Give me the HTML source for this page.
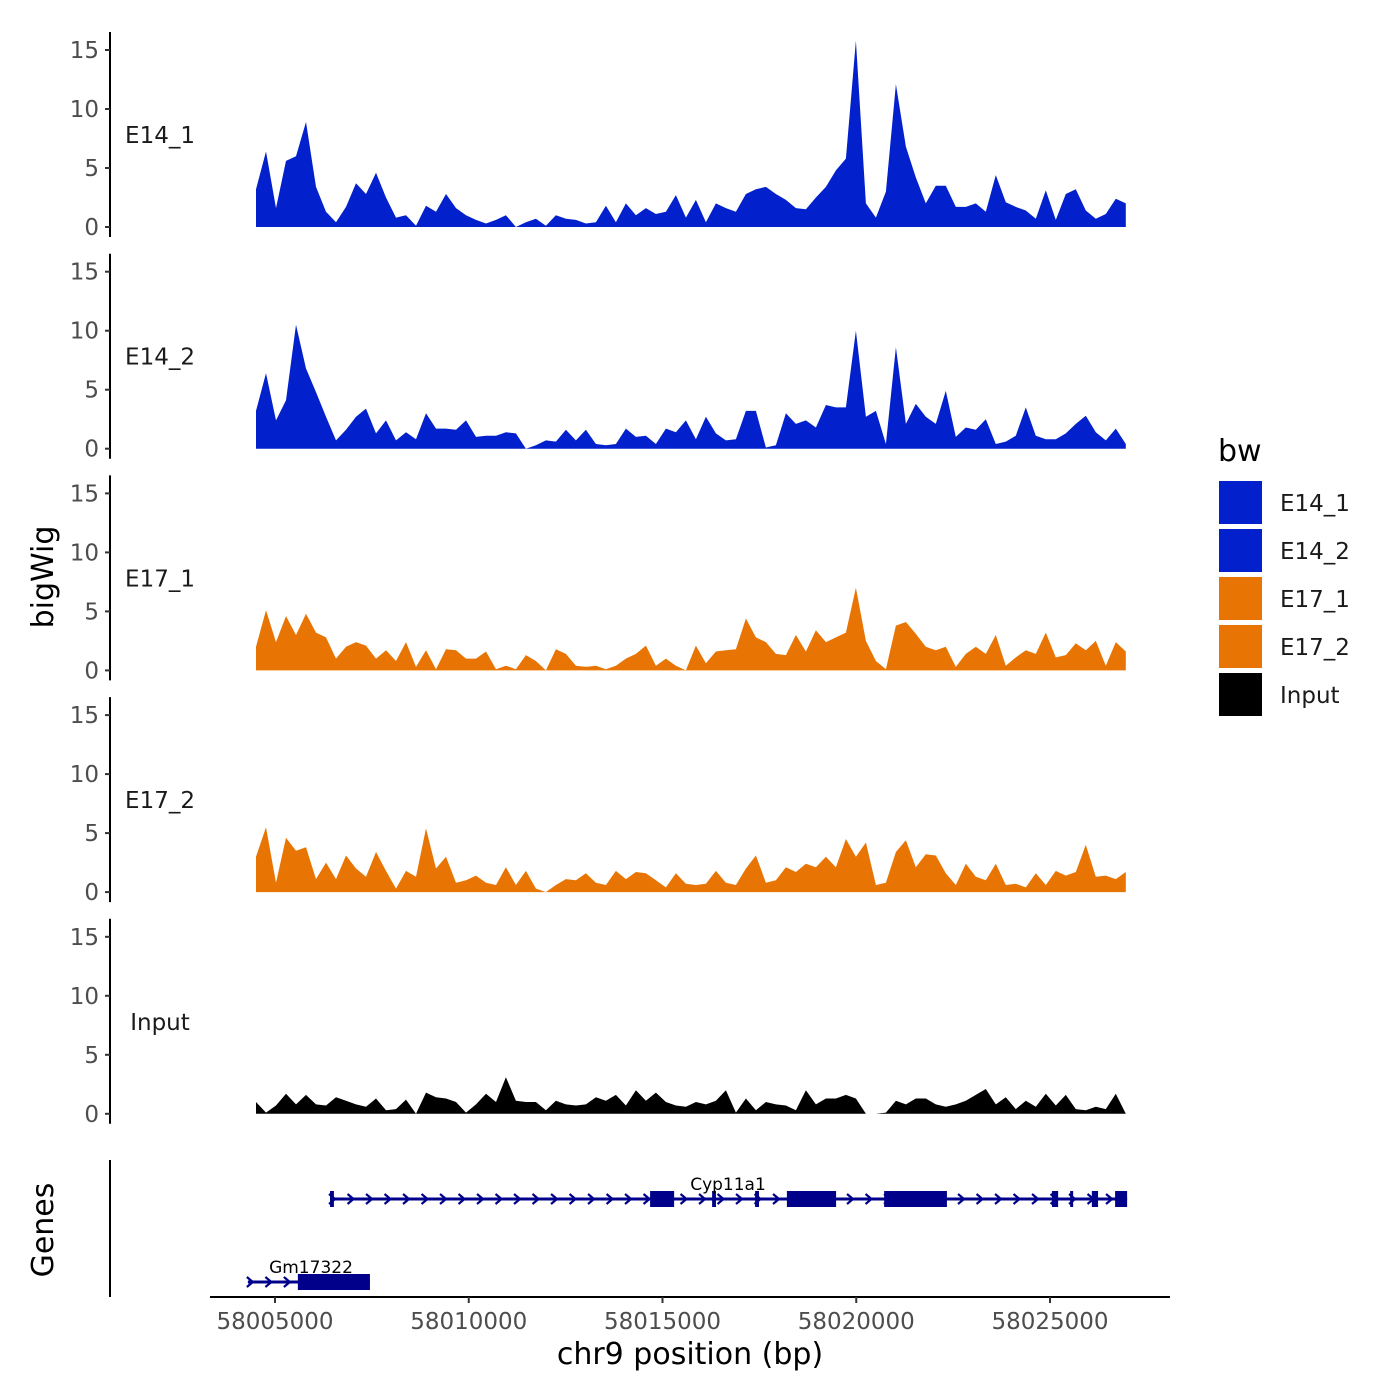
<!DOCTYPE html>
<html><head><meta charset="utf-8"><style>
body{margin:0;background:#fff}
svg{display:block;font-family:"DejaVu Sans","Liberation Sans",sans-serif}
</style></head><body>
<svg id="chart" width="1400" height="1400" viewBox="0 0 1400 1400"></svg>
<script>
const gridStart = 58004510;
const gridStep = 258;
const trackNames = ["E14_1","E14_2","E17_1","E17_2","Input"];
const trackColors = ["#0220cc","#0220cc","#e87503","#e87503","#000000"];
const e14_1 = [3.2,6.4,1.6,5.6,6.0,8.9,3.4,1.3,0.4,1.7,3.7,2.8,4.6,2.5,0.8,1.0,0.1,1.8,1.3,2.8,1.6,1.0,0.6,0.3,0.6,1.0,0,0.4,0.7,0.1,1.0,0.7,0.6,0.3,0.4,1.8,0.4,2.0,1.0,1.6,1.1,1.3,2.7,0.8,2.3,0.4,2.0,1.6,1.3,2.8,3.2,3.4,2.8,2.3,1.6,1.5,2.5,3.4,4.8,5.8,15.8,2.0,0.8,3.0,12.1,6.8,4.2,2.0,3.5,3.5,1.7,1.7,2.0,1.3,4.4,2.1,1.7,1.4,0.7,3.1,0.6,2.8,3.2,1.4,0.7,1.1,2.4,2.0];
const e14_2 = [3.2,6.4,2.4,4.1,10.5,6.8,4.8,2.7,0.7,1.6,2.7,3.4,1.3,2.4,0.7,1.4,0.8,3.0,1.7,1.7,1.6,2.4,1.0,1.1,1.1,1.4,1.3,0,0.3,0.7,0.6,1.6,0.7,1.6,0.4,0.3,0.4,1.7,1.0,1.1,0.4,1.7,1.4,2.4,0.8,2.7,1.3,0.7,0.8,3.2,3.2,0.1,0.3,3.0,2.1,2.4,1.8,3.7,3.5,3.5,10.0,2.7,3.2,0.4,8.6,2.1,3.8,2.7,2.1,4.9,1.0,1.8,1.6,2.5,0.4,0.6,1.1,3.5,1.1,0.8,0.8,1.3,2.1,2.8,1.4,0.7,1.7,0.4];
const e17_1 = [2.0,5.1,2.4,4.6,3.0,4.8,3.2,2.8,1.0,2.0,2.4,2.1,1.0,1.7,0.8,2.4,0.3,1.7,0.1,1.8,1.7,1.0,1.0,1.6,0.1,0.4,0.1,1.3,0.8,0,1.8,1.4,0.4,0.3,0.4,0.1,0.4,1.0,1.4,2.1,0.4,1.0,0.4,0,2.1,0.6,1.6,1.7,1.8,4.4,2.8,2.4,1.4,1.3,3.0,1.6,3.4,2.4,2.8,3.2,7.0,2.5,0.8,0.1,3.8,4.1,3.1,2.0,1.7,2.0,0.3,1.4,2.0,1.4,3.0,0.4,1.1,1.7,1.4,3.2,1.1,1.3,2.3,1.7,2.5,0.4,2.4,1.6];
const e17_2 = [3.0,5.5,0.8,4.6,3.5,3.8,1.1,2.5,1.1,3.1,2.0,1.3,3.4,1.8,0.3,1.8,1.3,5.4,2.0,3.0,0.8,1.0,1.4,0.8,0.6,2.1,0.6,1.8,0.3,0,0.6,1.1,1.0,1.6,0.8,0.6,1.8,1.1,1.7,1.6,1.0,0.4,1.6,0.7,0.6,0.7,1.8,0.8,0.6,2.0,3.1,0.8,1.0,2.1,1.7,2.4,2.1,3.0,2.1,4.5,3.0,4.2,0.6,0.8,3.4,4.4,2.1,3.2,3.1,1.6,0.6,2.4,1.3,1.0,2.4,0.6,0.7,0.4,1.6,0.6,1.8,1.4,1.7,4.0,1.3,1.4,1.1,1.7];
const input = [1.0,0.1,0.7,1.7,0.8,1.6,0.8,0.7,1.4,1.1,0.8,0.6,1.3,0.3,0.4,1.2,0,1.8,1.4,1.3,1.0,0.1,0.8,1.7,1.0,3.1,1.1,1.0,1.0,0.3,1.1,0.8,0.7,0.8,1.4,1.1,1.6,0.7,2.0,1.1,1.8,1.0,0.7,0.6,1.0,0.8,1.1,2.0,0.1,1.3,0.3,1.0,0.8,0.7,0.3,2.0,0.8,1.3,1.3,1.6,1.3,0,0,0.1,1.1,0.8,1.3,1.3,0.8,0.6,0.8,1.1,1.6,2.1,0.8,1.4,0.4,1.1,0.6,1.7,0.7,1.6,0.4,0.3,0.6,0.4,1.7,0];
const yTicks = [0,5,10,15];
const xTicks = [58005000,58010000,58015000,58020000,58025000];
const geneNames = ["Cyp11a1","Gm17322"];
const geneStarts = [58006420,58004300];
const geneEnds = [58026990,58007450];
const cypExonStarts = [58006420,58014680,58016280,58017390,58018210,58020720,58025050,58025520,58026080,58026680];
const cypExonEnds   = [58006520,58015300,58016380,58017490,58019480,58022340,58025210,58025590,58026240,58026990];
const gmExonStarts = [58005590];
const gmExonEnds = [58007450];

const NS="http://www.w3.org/2000/svg";
const svg=document.getElementById('chart');
function mk(tag,attrs,parent){const e=document.createElementNS(NS,tag);for(const k in attrs)e.setAttribute(k,attrs[k]);(parent||svg).appendChild(e);return e;}
function xS(bp){return 275+(bp-58005000)*0.03875;}
const PANEL_GAP=221.7, UNIT=11.8;
function y0(k){return 227+PANEL_GAP*k;}
function yS(k,v){return y0(k)-v*UNIT;}
const series=[e14_1,e14_2,e17_1,e17_2,input];

series.forEach((vals,k)=>{
  const g=mk('g',{});
  
  
  let d='M'+xS(gridStart).toFixed(1)+','+y0(k);
  vals.forEach((v,i)=>{d+=' L'+xS(gridStart+i*gridStep).toFixed(1)+','+yS(k,v).toFixed(1);});
  d+=' L'+xS(gridStart+(vals.length-1)*gridStep).toFixed(1)+','+y0(k)+' Z';
  const p=mk('path',{d:d,fill:trackColors[k]},g);
  
  
  const ax=mk('line',{x1:110,x2:110,y1:32+PANEL_GAP*k,y2:237+PANEL_GAP*k,stroke:'#000','stroke-width':2},g);
  
  
  yTicks.forEach(t=>{
    const y=yS(k,t);
    mk('line',{x1:105,x2:110,y1:y,y2:y,stroke:'#333','stroke-width':2},g);
    const tx=mk('text',{x:99,y:y+8,'text-anchor':'end','font-size':23,fill:'#4d4d4d'},g);
    tx.textContent=t;
    
    
  });
  const lb=mk('text',{x:160,y:y0(k)-84,'text-anchor':'middle','font-size':23,fill:'#1a1a1a'},g);
  lb.textContent=trackNames[k];
  
  
});

const yt=mk('text',{x:0,y:0,transform:'translate(53,577) rotate(-90)','text-anchor':'middle','font-size':30,fill:'#000'});
yt.textContent='bigWig';



const gg=mk('g',{});


mk('line',{x1:110,x2:110,y1:1160,y2:1297,stroke:'#000','stroke-width':2},gg);
const gt=mk('text',{x:0,y:0,transform:'translate(53,1230) rotate(-90)','text-anchor':'middle','font-size':30,fill:'#000'},gg);
gt.textContent='Genes';


const geneY=[1199,1282];
const exS=[cypExonStarts,gmExonStarts], exE=[cypExonEnds,gmExonEnds];
geneNames.forEach((n,i)=>{
  const y=geneY[i];
  const x1=xS(geneStarts[i]), x2=xS(geneEnds[i]);
  const gl=mk('line',{x1:x1,x2:x2,y1:y,y2:y,stroke:'#00008b','stroke-width':3},gg);
  
  
  for(let x=x1+2;x<x2-4;x+=18.5){
    mk('path',{d:`M${x-3},${y-5} L${x+3},${y} L${x-3},${y+5}`,fill:'none',stroke:'#00008b','stroke-width':2.2},gg);
  }
  exS[i].forEach((s,j)=>{
    const r=mk('rect',{x:xS(s),y:y-8,width:Math.max(3,xS(exE[i][j])-xS(s)),height:16,fill:'#00008b'},gg);
    
    
  });
  const lab=mk('text',{x:i===0?728:311,y:y-9,'text-anchor':'middle','font-size':17,fill:'#000'},gg);
  lab.textContent=n;
  
  
});

const xa=mk('line',{x1:210,x2:1170,y1:1297,y2:1297,stroke:'#000','stroke-width':2});


xTicks.forEach(t=>{
  const x=xS(t);
  mk('line',{x1:x,x2:x,y1:1297,y2:1303,stroke:'#333','stroke-width':2});
  const tx=mk('text',{x:x,y:1329,'text-anchor':'middle','font-size':23,fill:'#4d4d4d'});
  tx.textContent=t;
  
  
});
const xt=mk('text',{x:690,y:1364,'text-anchor':'middle','font-size':30,fill:'#000'});
xt.textContent='chr9 position (bp)';



const lg=mk('g',{});


const lt=mk('text',{x:1218,y:461,'font-size':30,fill:'#000'},lg);
lt.textContent='bw';


trackNames.forEach((n,i)=>{
  const y=480+48*i;
  const r=mk('rect',{x:1218,y:y,width:45,height:45,fill:trackColors[i],stroke:'#fff','stroke-width':2},lg);
  
  
  const t=mk('text',{x:1280,y:y+31,'font-size':23,fill:'#1a1a1a'},lg);
  t.textContent=n;
  
  
});
</script>
</body></html>
